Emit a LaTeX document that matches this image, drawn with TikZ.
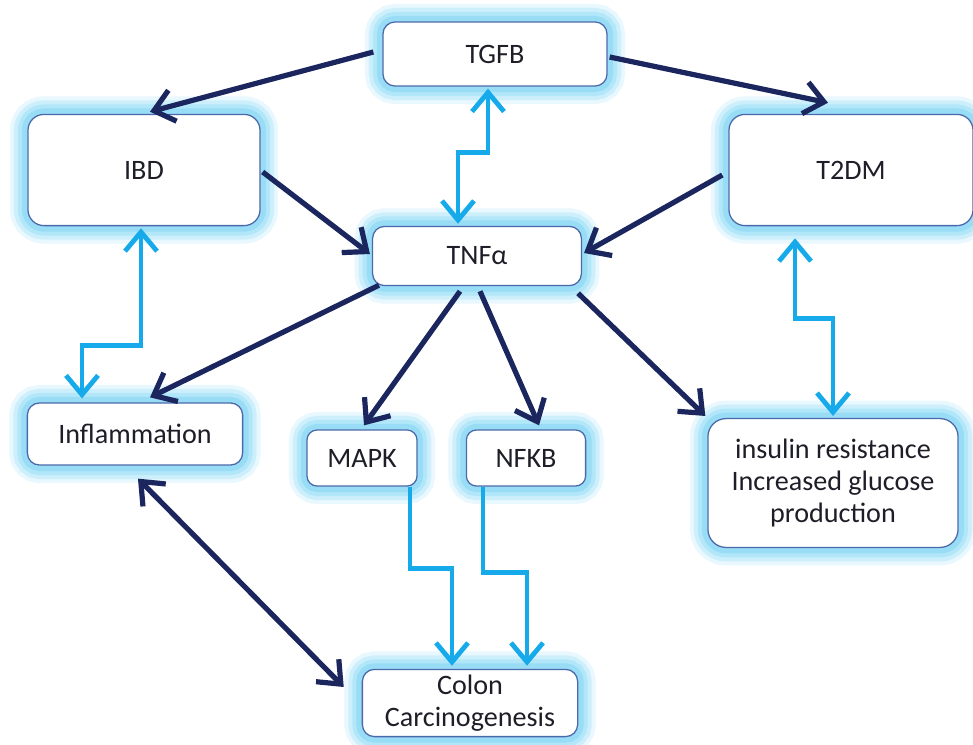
\documentclass[tikz,border=0pt]{standalone}
\usepackage{fontspec}
\setmainfont{Carlito}
\usepackage{xcolor}
\usepackage{tikz}
\definecolor{navy}{RGB}{27,38,94}
\definecolor{skyline}{RGB}{22,170,235}
\definecolor{glowa}{RGB}{232,248,254}
\definecolor{glowb}{RGB}{205,239,252}
\definecolor{glowc}{RGB}{178,231,250}
\definecolor{glowd}{RGB}{152,220,246}
\definecolor{boxline}{RGB}{75,105,170}
\definecolor{txt}{RGB}{30,30,40}
\usetikzlibrary{arrows.meta,calc,positioning}

\begin{document}
\begin{tikzpicture}[x=0.025cm, y=-0.025cm,
      box/.style={draw=boxline, line width=0.9pt, fill=white, rounded corners=0.3cm,
        align=center, text=txt, inner sep=0pt, font=\fontsize{20}{23}\selectfont,
        preaction={draw=glowa, line width=0.9cm},
        preaction={draw=glowb, line width=0.7cm},
        preaction={draw=glowc, line width=0.5cm},
        preaction={draw=glowd, line width=0.3cm}},
      trans/.style={->, >={Straight Barb[length=0.48cm,width=0.8cm]}, line width=0.13cm, navy},
      ltrans/.style={->, >={Straight Barb[length=0.48cm,width=0.8cm]}, line width=0.12cm, skyline},
      ]
      \useasboundingbox (0,0) rectangle (973,744);
      % boxes
      \node (tgfb) at (495,54) [box, minimum width=5.6cm, minimum height=1.6cm] {TGFB};
      \node (ibd) at (144,170) [box, minimum width=5.8cm, minimum height=2.78cm, rounded corners=0.4cm] {IBD};
      \node (t2dm) at (851,170) [box, minimum width=6.1cm, minimum height=2.78cm, rounded corners=0.4cm] {T2DM};
      \node (tnf) at (477,256) [box, minimum width=5.22cm, minimum height=1.48cm] {TNFα};
      \node (infl) at (135,434) [box, minimum width=5.38cm, minimum height=1.55cm] {Inflammation};
      \node (mapk) at (362,458) [box, minimum width=2.75cm, minimum height=1.4cm, rounded corners=0.25cm] {MAPK};
      \node (nfkb) at (526,458) [box, minimum width=2.98cm, minimum height=1.4cm, rounded corners=0.25cm] {NFKB};
      \node (ins) at (833,483) [box, minimum width=6.25cm, minimum height=3.22cm, rounded corners=0.45cm] {insulin resistance\\Increased glucose\\production};
      \node (colon) at (470,703) [box, minimum width=5.38cm, minimum height=1.68cm] {Colon\\Carcinogenesis};

      % dark arrows
      \draw [trans] ($(tgfb.west)+(-9,-2)$) -- ($(ibd.north)+(6,-2)$);
      \draw [trans] ($(tgfb.east)+(2,3)$) -- ($(t2dm.north)+(-23,-11)$);
      \draw [trans] ($(ibd.east)+(2,2)$) -- ($(tnf.west)+(-2,-2)$);
      \draw [trans] ($(t2dm.west)+(-6,5)$) -- ($(tnf.east)+(2,-3)$);
      \draw [trans] ($(tnf.south west)+(7,-1)$) -- ($(infl.north)+(15,-5)$);
      \draw [trans] ($(tnf.south)+(-17,5)$) -- ($(mapk.north)+(2,-4)$);
      \draw [trans] ($(tnf.south)+(3,5)$) -- ($(nfkb.north)+(13,-4)$);
      \draw [trans] ($(tnf.south east)+(-4,7)$) -- ($(ins.north west)+(-2,-2)$);
      \draw [trans, <->] ($(infl.south)+(3,13)$) -- ($(colon.west)+(-18,-16)$);

      % light arrows
      \draw [ltrans, <->] ($(tgfb.south)+(-7,2)$) -- ++(0,64) -| ($(tnf.north)+(-19,-2)$);
      \draw [ltrans, <->] ($(ibd.south)+(-3,2)$) -- ++(0,117) -| ($(infl.north)+(-53,-4)$);
      \draw [ltrans, <->] ($(t2dm.south)+(-56,12)$) -- ++(0,80) -| ($(ins.north)+(0,-2)$);
      \draw [ltrans] ($(mapk.south)+(48,0)$) -- ++(0,82) -| ($(colon.north)+(-18,-3)$);
      \draw [ltrans] ($(nfkb.south)+(-43,0)$) -- ++(0,86) -| ($(colon.north)+(57,-3)$);
    \end{tikzpicture}
\end{document}
